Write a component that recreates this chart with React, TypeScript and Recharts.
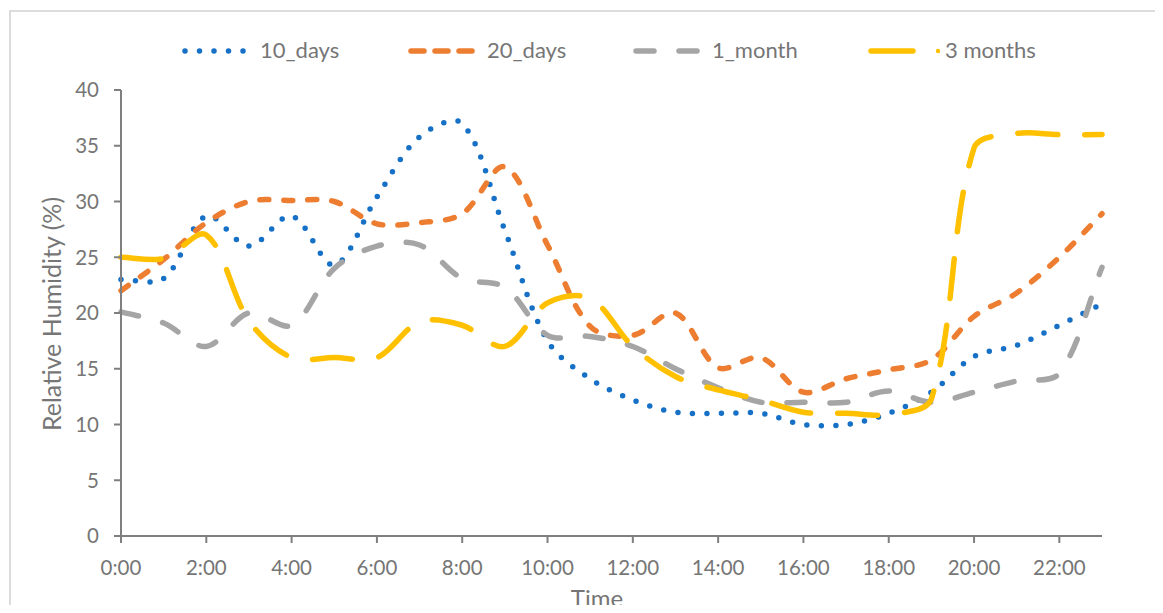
import { LineChart, Line, XAxis, YAxis, Label } from "recharts";

// hourly readings, one value per hour of the day
const HOURS = [
  "0:00", "1:00", "2:00", "3:00", "4:00", "5:00", "6:00", "7:00",
  "8:00", "9:00", "10:00", "11:00", "12:00", "13:00", "14:00", "15:00",
  "16:00", "17:00", "18:00", "19:00", "20:00", "21:00", "22:00", "23:00",
];
const DAYS_10 = [23, 23.1, 28.7, 26, 28.7, 24.3, 30.4, 35.8, 37, 27.4, 17.5, 14.1, 12.2, 11.1, 11, 11, 10, 10, 11, 12.9, 16.1, 17.1, 18.9, 20.8];
const DAYS_20 = [22, 24.8, 28.1, 30, 30.1, 30, 28, 28.1, 28.9, 33.1, 26.1, 18.8, 18, 20, 15.1, 16, 12.9, 14.1, 14.9, 15.8, 19.7, 21.8, 25, 28.9];
const MONTH_1 = [20.1, 19.1, 17, 20, 18.9, 24, 26, 26.1, 23.1, 22.3, 18, 17.9, 17, 15, 13.3, 12, 12, 12, 13, 12, 12.9, 13.9, 14.6, 24.1];
const MONTHS_3 = [25, 24.9, 27, 19.3, 16, 16, 16, 19.2, 18.9, 17, 20.9, 21.3, 17, 14.3, 13.1, 12.2, 11.1, 11, 10.9, 12.3, 34.8, 36.1, 36, 36];
const Y_TICKS = [0, 5, 10, 15, 20, 25, 30, 35, 40];

const rows = HOURS.map((t, i) => ({
  t, d10: DAYS_10[i], d20: DAYS_20[i], m1: MONTH_1[i], m3: MONTHS_3[i],
}));

const SERIES = [
  { key: "d10", name: "10_days", color: "#1570C6", dash: "0 14.5" },
  { key: "d20", name: "20_days", color: "#ED7D31", dash: "9 15" },
  { key: "m1", name: "1_month", color: "#A5A5A5", dash: "18 25" },
  { key: "m3", name: "3 months", color: "#FFC000", dash: "40 27" },
];

const FONT = "Lato, 'Open Sans', sans-serif";
const INK = "#767676";
const AXIS = "#7f7f7f";

// Spreadsheet-style smoothing: bezier handles follow the neighbour chord and are
// split by segment length, so a short segment next to a long jump doesn't overshoot.
const smoothCurve = (ctx: any) => {
  let pts: number[][] = [];
  return {
    areaStart() {},
    areaEnd() {},
    lineStart() { pts = []; },
    point(x: number, y: number) { pts.push([+x, +y]); },
    lineEnd() {
      const n = pts.length;
      if (!n) return;
      ctx.moveTo(pts[0][0], pts[0][1]);
      const dist = (a: number[], b: number[]) => Math.hypot(b[0] - a[0], b[1] - a[1]);
      const h = pts.map((p, i) => {
        const prev = pts[i - 1] ?? p;
        const next = pts[i + 1] ?? p;
        const dp = dist(prev, p), dn = dist(p, next);
        const sum = dp + dn || 1;
        const tx = next[0] - prev[0], ty = next[1] - prev[1];
        return {
          back: [p[0] - (tx * dp) / sum / 3, p[1] - (ty * dp) / sum / 3],
          fwd: [p[0] + (tx * dn) / sum / 3, p[1] + (ty * dn) / sum / 3],
        };
      });
      for (let i = 1; i < n; i++) {
        const a = h[i - 1].fwd, b = h[i].back;
        ctx.bezierCurveTo(a[0], a[1], b[0], b[1], pts[i][0], pts[i][1]);
      }
    },
  };
};

function LegendMark({ s }: { s: (typeof SERIES)[number] }) {
  if (s.key === "d10") {
    return (
      <svg width={64} height={10}>
        <line x1={3} y1={5} x2={62} y2={5} stroke={s.color} strokeWidth={5.5} strokeLinecap="round" strokeDasharray="0 14.5" />
      </svg>
    );
  }
  if (s.key === "d20") {
    return (
      <svg width={67} height={10}>
        <line x1={3} y1={5} x2={64} y2={5} stroke={s.color} strokeWidth={5.5} strokeLinecap="round" strokeDasharray="13 11" />
      </svg>
    );
  }
  if (s.key === "m1") {
    return (
      <svg width={67} height={10}>
        <line x1={3} y1={5} x2={64} y2={5} stroke={s.color} strokeWidth={5.5} strokeLinecap="round" strokeDasharray="18 25" />
      </svg>
    );
  }
  return (
    <svg width={76} height={10}>
      <line x1={3} y1={5} x2={45} y2={5} stroke={s.color} strokeWidth={5.5} strokeLinecap="round" />
      <circle cx={70} cy={5} r={2.2} fill={s.color} />
    </svg>
  );
}

const LEGEND_AT = [
  { mark: 174, text: 252 },
  { mark: 400, text: 479 },
  { mark: 625, text: 704 },
  { mark: 860, text: 937 },
];

export default function App() {
  // negative bottom margin lets the box run to the window's lower edge without scrolling
  return (
    <div style={{ position: "relative", width: 1147, height: 605, marginBottom: -8, fontFamily: FONT, background: "#fff", overflow: "hidden" }}>
      <div style={{ position: "absolute", left: 1, top: 2, right: -20, bottom: -20, borderTop: "2px solid #dcdcdc", borderLeft: "2px solid #dcdcdc" }} />

      {SERIES.map((s, i) => (
        <div key={s.key}>
          <div style={{ position: "absolute", left: LEGEND_AT[i].mark, top: 37.5, height: 10, lineHeight: 0 }}>
            <LegendMark s={s} />
          </div>
          <div style={{ position: "absolute", left: LEGEND_AT[i].text, top: 28, height: 28, lineHeight: "28px", fontSize: 22, color: INK, whiteSpace: "nowrap" }}>
            {s.name}
          </div>
        </div>
      ))}

      <div style={{ position: "absolute", left: 0, top: 0 }}>
        <LineChart width={1147} height={605} data={rows} margin={{ top: 82, right: 53, bottom: 17, left: 53 }}>
          <XAxis
            dataKey="t" interval={1} height={60}
            tick={{ fill: INK, fontSize: 20.5, fontFamily: FONT }}
            tickSize={7} tickMargin={17}
            axisLine={{ stroke: AXIS, strokeWidth: 2 }}
            tickLine={{ stroke: AXIS, strokeWidth: 2 }}
          >
            <Label
              content={() => (
                <text x={589} y={590} dy="0.36em" textAnchor="middle" fill={INK} fontSize={24} fontFamily={FONT}>Time</text>
              )}
            />
          </XAxis>
          <YAxis
            width={60} domain={[0, 40]} ticks={Y_TICKS} interval={0}
            tick={{ fill: INK, fontSize: 20.5, fontFamily: FONT }}
            tickSize={7} tickMargin={15}
            axisLine={{ stroke: AXIS, strokeWidth: 2 }}
            tickLine={{ stroke: AXIS, strokeWidth: 2 }}
          >
            <Label
              content={() => (
                <text x={44} y={306} dy="0.36em" textAnchor="middle" transform="rotate(-90 44 306)" fill={INK} fontSize={25} fontFamily={FONT}>
                  Relative Humidity (%)
                </text>
              )}
            />
          </YAxis>
          {SERIES.map((s) => (
            <Line
              key={s.key} dataKey={s.key} name={s.name} type={smoothCurve as any}
              stroke={s.color} strokeWidth={5.5} strokeDasharray={s.dash}
              strokeLinecap="round" strokeLinejoin="round"
              dot={false} activeDot={false} isAnimationActive={false}
            />
          ))}
        </LineChart>
      </div>
    </div>
  );
}
